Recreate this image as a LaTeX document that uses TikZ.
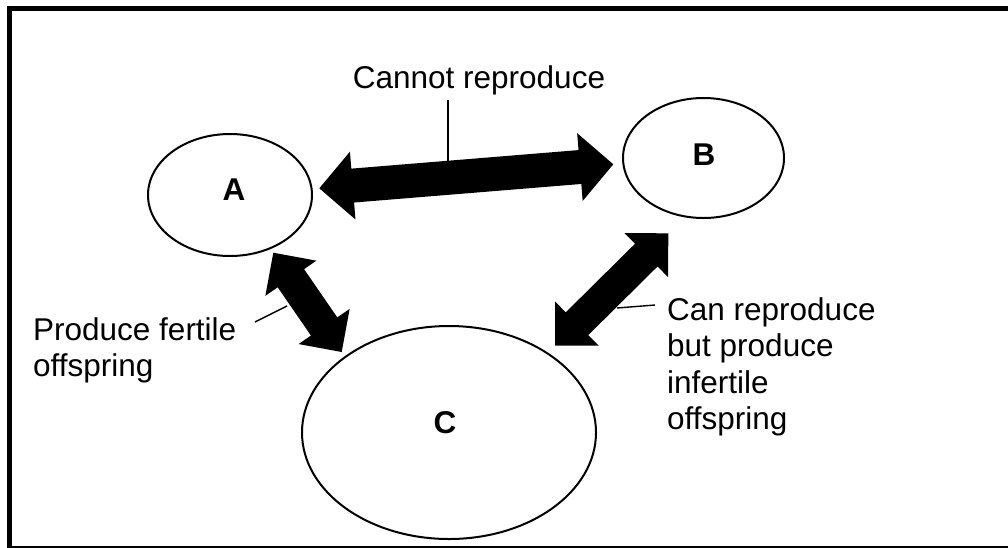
\documentclass[tikz,border=0pt]{standalone}
\usepackage{fontspec}
\setmainfont{Liberation Sans}
\usetikzlibrary{shapes.geometric,calc}
% block double arrow between two tip points: #1 tip, #2 tip, #3 head length, #4 head half-width, #5 shaft half-width
\newcommand{\blockarrow}[5]{%
  \fill (#1) -- ($(#1)!#3!(#2)!#4!90:(#2)$) -- ($(#1)!#3!(#2)!#5!90:(#2)$)
    -- ($(#2)!#3!(#1)!#5!-90:(#1)$) -- ($(#2)!#3!(#1)!#4!-90:(#1)$) -- (#2)
    -- ($(#2)!#3!(#1)!#4!90:(#1)$) -- ($(#2)!#3!(#1)!#5!90:(#1)$)
    -- ($(#1)!#3!(#2)!#5!-90:(#2)$) -- ($(#1)!#3!(#2)!#4!-90:(#2)$) -- cycle;}
\begin{document}
\begin{tikzpicture}[x=1pt,y=-1pt,
  blob/.style={draw,ellipse,line width=2pt,inner sep=0pt},
  letter/.style={font=\fontsize{31.5}{37}\selectfont\bfseries,inner sep=0pt},
  lbl/.style={font=\fontsize{31.5}{36.5}\selectfont,inner sep=0pt,align=left},
  leader/.style={line width=1.4pt}]
\useasboundingbox (0,0) rectangle (1008,547);
\fill[white] (0,0) rectangle (1008,547);
\draw[line width=5pt] (9.5,8.5) rectangle (1012,548.5);

\node[blob,minimum width=164pt,minimum height=122pt] (A) at (230,195) {};
\node[blob,minimum width=161pt,minimum height=120pt] (B) at (703.5,158) {};
\node[blob,minimum width=294pt,minimum height=213pt] (C) at (449,432.5) {};
\node[letter] (Al) at (234,190) {A};
\node[letter] (Bl) at (704,155) {B};
\node[letter] (Cl) at (445,423) {C};

\coordinate (abA) at (319.3,188.3); \coordinate (abB) at (613.3,164.3);
\coordinate (acA) at (273.3,252.7); \coordinate (acC) at (341.7,352);
\coordinate (bcB) at (668.3,233.3); \coordinate (bcC) at (555,345.5);

\blockarrow{abA}{abB}{33.5pt}{34pt}{17pt}
\blockarrow{acA}{acC}{31pt}{31pt}{16pt}
\blockarrow{bcB}{bcC}{31pt}{31pt}{16pt}

\node[lbl,anchor=base] (t1) at (479,88) {Cannot reproduce};
\node[lbl,anchor=north west] (t2) at (33,317) {Produce fertile\\offspring};
\node[lbl,anchor=north west] (t3) at (667,297) {Can reproduce\\but produce\\infertile\\offspring};

\coordinate (l1a) at (448,100); \coordinate (l1b) at (448,161);
\coordinate (l2a) at (255,322); \coordinate (l2b) at (287,306);
\coordinate (l3a) at (617,308); \coordinate (l3b) at (655,305);
\draw[leader] (l1a) -- (l1b);
\draw[leader] (l2a) -- (l2b);
\draw[leader] (l3a) -- (l3b);
\end{tikzpicture}
\end{document}
